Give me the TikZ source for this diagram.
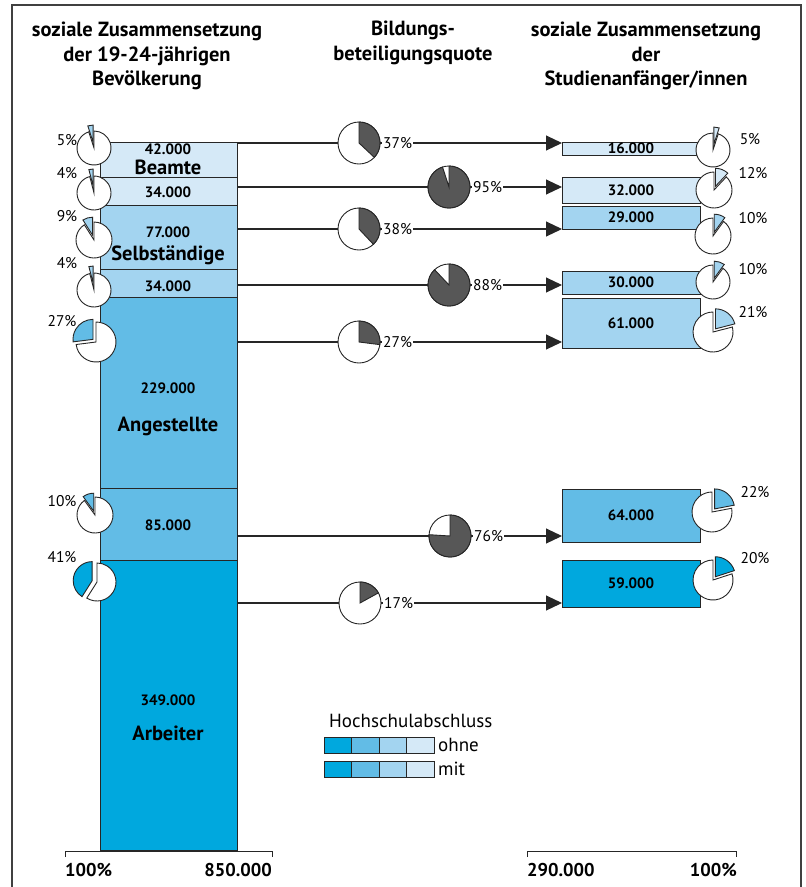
\documentclass[tikz,border=0pt]{standalone}
\usepackage{fontspec}
\setmainfont{PT Sans}
\usetikzlibrary{arrows.meta}

\definecolor{hellblau}{HTML}{D5E9F7}
\definecolor{mittelblau}{HTML}{A3D4F0}
\definecolor{blau}{HTML}{62BCE6}
\definecolor{dunkelblau}{HTML}{00A8DE}
\definecolor{grau}{HTML}{575757}

\begin{document}
\begin{tikzpicture}[x=1pt,y=1pt,
  kopf/.style={font=\bfseries\fontsize{20.5}{24.5}\selectfont, align=center},
  zahl/.style={font=\bfseries\fontsize{15}{17}\selectfont, inner sep=0pt},
  gruppe/.style={font=\bfseries\fontsize{20.5}{22}\selectfont, inner sep=0pt},
  proz/.style={font=\fontsize{15.5}{17}\selectfont, inner sep=1pt},
  achse/.style={font=\bfseries\fontsize{18.5}{20}\selectfont, inner sep=0pt},
  legtext/.style={font=\fontsize{19}{21}\selectfont, anchor=west, inner sep=0pt},
  kante/.style={draw=black!85, line width=0.9pt},
  rbox/.style={kante, minimum width=138pt, inner sep=0pt, font=\bfseries\fontsize{15}{17}\selectfont},
  pfeil/.style={draw=black!85, line width=1.1pt, -{Triangle[length=16pt,width=15pt]}}]

\useasboundingbox (0,0) rectangle (806,-887);
% Rahmen
\draw [black!75, line width=1.4pt] (12,-887) -- (12,-5) -- (801,-5) -- (801,-887);

% Kopfzeilen
\node [kopf] (k1) at (147,-56) {soziale Zusammensetzung\\der 19-24-jährigen\\Bevölkerung};
\node [kopf] (k2) at (413,-43) {Bildungs-\\beteiligungsquote};
\node [kopf] (k3) at (646,-56) {soziale Zusammensetzung\\der\\Studienanfänger/innen};

% Saeule links
\filldraw [kante, fill=hellblau] (100,-142) rectangle (237,-177);
\filldraw [kante, fill=hellblau] (100,-177) rectangle (237,-205);
\filldraw [kante, fill=mittelblau] (100,-205) rectangle (237,-269);
\filldraw [kante, fill=mittelblau] (100,-269) rectangle (237,-297);
\filldraw [kante, fill=blau] (100,-297) rectangle (237,-488);
\filldraw [kante, fill=blau] (100,-488) rectangle (237,-560);
\filldraw [kante, fill=dunkelblau] (100,-560) rectangle (237,-850);

\node [zahl] (n1) at (168,-149.5) {42.000};
\node [gruppe] (g1) at (168,-167.5) {Beamte};
\node [zahl] (n2) at (168,-192) {34.000};
\node [zahl] (n3) at (168,-232) {77.000};
\node [gruppe] (g2) at (168,-255) {Selbständige};
\node [zahl] (n4) at (168,-286) {34.000};
\node [zahl] (n5) at (168,-388) {229.000};
\node [gruppe] (g3) at (168,-426) {Angestellte};
\node [zahl] (n6) at (168,-525) {85.000};
\node [zahl] (n7) at (168,-700) {349.000};
\node [gruppe] (g4) at (168,-733) {Arbeiter};

% Kästen rechts
\node [rbox, fill=hellblau, minimum height=13pt] (r1) at (631,-148.5) {16.000};
\node [rbox, fill=hellblau, minimum height=26pt] (r2) at (631,-190) {32.000};
\node [rbox, fill=mittelblau, minimum height=23pt] (r3) at (631,-217.5) {29.000};
\node [rbox, fill=mittelblau, minimum height=23pt] (r4) at (631,-282.5) {30.000};
\node [rbox, fill=mittelblau, minimum height=50pt] (r5) at (631,-323) {61.000};
\node [rbox, fill=blau, minimum height=53pt] (r6) at (631,-515.5) {64.000};
\node [rbox, fill=dunkelblau, minimum height=47pt] (r7) at (631,-583.5) {59.000};

% Pfeile mit Beteiligungsquote
\foreach \y/\cx/\p [count=\i] in {143/359/37, 187/449/95, 229/359/38, 285/449/88,
                                  342/359/27, 536/450/76, 603/360/17}{
  \coordinate (a\i) at (237,-\y);
  \coordinate (z\i) at (562,-\y);
  \draw [pfeil] (a\i) -- (z\i);
  \pgfmathsetmacro\w{90-3.6*\p}
  \filldraw [kante, fill=white] (\cx,-\y) circle [radius=21];
  \filldraw [kante, fill=grau] (\cx,-\y) -- ++(90:21) arc [start angle=90, end angle=\w, radius=21] -- cycle;
  \node [proz, fill=white, anchor=west] (q\i) at (\cx+23,-\y) {\p\%};
}

% Tortenstücke links
\foreach \cx/\cy/\r/\p/\o/\f/\lx/\ly [count=\i] in {
    94/148/17/5/6/mittelblau/67/140, 94/193/17/4/7/mittelblau/67/173,
    94/240/18/9/5/mittelblau/67/216, 94/290/17/4/7/mittelblau/67/263,
    96/342/20/27/4/blau/62/321, 95/515/18/10/4/blau/62/501,
    97/582/19/41/5/dunkelblau/62/557}{
  \pgfmathsetmacro\a{3.6*\p}
  \pgfmathsetmacro\b{90+\a/2}
  \filldraw [kante, fill=white] (\cx,-\cy) -- ++(90+\a:\r) arc [start angle=90+\a, end angle=450, radius=\r] -- cycle;
  \filldraw [kante, fill=\f, shift={(\b:\o)}] (\cx,-\cy) -- ++(90:\r) arc [start angle=90, end angle=90+\a, radius=\r] -- cycle;
  \node [proz] (lp\i) at (\lx,-\ly) {\p\%};
}

% Tortenstücke rechts
\foreach \cx/\cy/\r/\p/\o/\f/\lx/\ly [count=\i] in {
    713/150/17/5/6/hellblau/750/139, 714/190/18/12/4/hellblau/753/173,
    713/236/18/10/4/mittelblau/753/218, 713/282/17/10/4/mittelblau/753/269,
    713/332/20/21/4/mittelblau/753/312, 712/512/20/22/4/blau/755/492,
    713/580/20/20/4/dunkelblau/755/558}{
  \pgfmathsetmacro\a{3.6*\p}
  \pgfmathsetmacro\b{90-\a/2}
  \filldraw [kante, fill=white] (\cx,-\cy) -- ++(90-\a:\r) arc [start angle=90-\a, end angle=-270, radius=\r] -- cycle;
  \filldraw [kante, fill=\f, shift={(\b:\o)}] (\cx,-\cy) -- ++(90:\r) arc [start angle=90, end angle=90-\a, radius=\r] -- cycle;
  \node [proz] (rp\i) at (\lx,-\ly) {\p\%};
}

% Legende
\node [legtext] (leg) at (329,-721) {Hochschulabschluss};
\foreach \f [count=\i] in {dunkelblau,blau,mittelblau,hellblau}{
  \filldraw [kante, fill=\f] (324+27.5*\i-27.5,-737) rectangle ++(27.5,-16);
  \filldraw [kante, fill=\f] (324+27.5*\i-27.5,-761) rectangle ++(27.5,-16);
}
\node [legtext] (ohne) at (438,-745) {ohne};
\node [legtext] (mit) at (438,-769) {mit};

% Achsen unten
\draw [kante] (65,-857) -- (65,-851) -- (272,-851) -- (272,-857);
\draw [kante] (527,-857) -- (527,-851) -- (736,-851) -- (736,-857);
\node [achse, anchor=west] (x1) at (65,-870) {100\%};
\node [achse, anchor=east] (x2) at (272,-870) {850.000};
\node [achse, anchor=west] (x3) at (527,-870) {290.000};
\node [achse, anchor=east] (x4) at (737,-870) {100\%};
\end{tikzpicture}
\end{document}
